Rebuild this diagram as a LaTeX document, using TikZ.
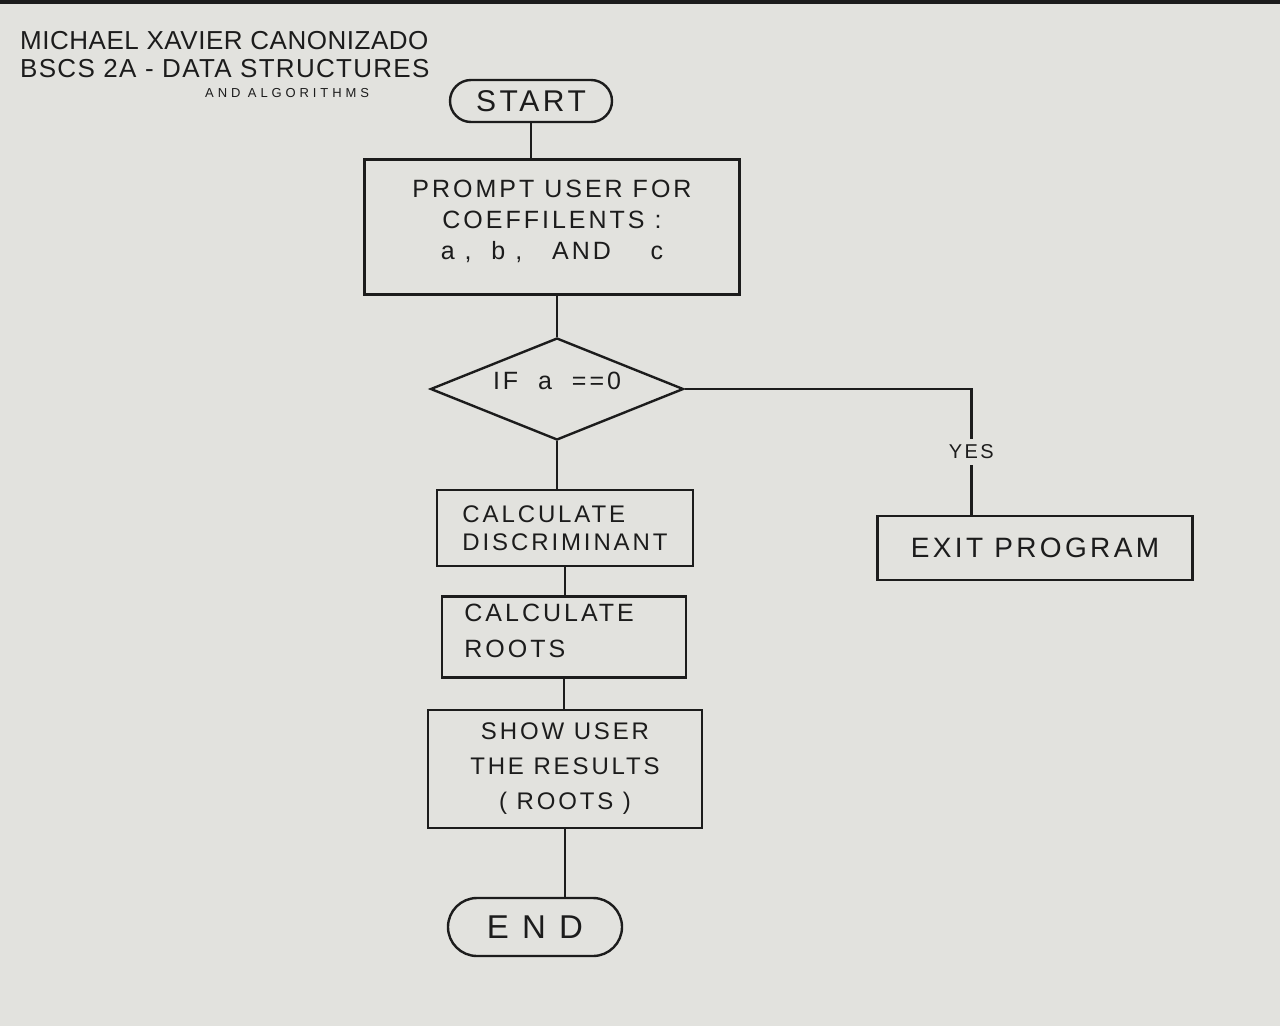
\documentclass[tikz,border=0pt]{standalone}
\usepackage{fontspec}
\newfontfamily\hand[LetterSpace=12]{Liberation Sans}
\newfontfamily\handplain{Liberation Sans}
\usetikzlibrary{shapes.geometric,calc}
\definecolor{paper}{RGB}{226,226,222}
\definecolor{ink}{RGB}{28,28,28}
\tikzset{
  inkline/.style={line width=2.4pt},
  procbox/.style={draw, inkline, rectangle, inner sep=0pt},
  termbox/.style={draw, inkline, rectangle, inner sep=0pt},
  decbox/.style={draw, inkline, diamond, inner sep=0pt, aspect=2.5},
  headtext/.style={anchor=base west, inner sep=0pt},
}
\begin{document}
\begin{tikzpicture}[x=1pt,y=-1pt,color=ink]
\fill[paper] (0,0) rectangle (1280,1026);
\fill[ink] (0,0) rectangle (1280,4);
\useasboundingbox (0,0) rectangle (1280,1026);

% header
\node[headtext, font=\handplain\addfontfeature{LetterSpace=2}\fontsize{26}{26}\selectfont] (hname) at (20,49) {MICHAEL XAVIER CANONIZADO};
\node[headtext, font=\handplain\addfontfeature{LetterSpace=5}\fontsize{26}{26}\selectfont] (hcourse) at (20,77) {BSCS 2A - DATA STRUCTURES};
\node[headtext, font=\hand\addfontfeature{LetterSpace=30}\fontsize{13}{13}\selectfont] (halgo) at (205,97) {AND ALGORITHMS};

% nodes
\node[termbox, rounded corners=21pt, minimum width=162pt, minimum height=42pt, font=\hand\fontsize{30}{30}\selectfont] (start) at (531,101) {START};

\node[procbox, minimum width=375pt, minimum height=135pt, align=center, font=\hand\fontsize{25}{31}\selectfont, text depth=14pt] (prompt) at (552,227)
  {PROMPT USER FOR\\COEFFILENTS :\\a ,\ \ b ,\ \ \ AND\ \ \ \ c};

\node[decbox, minimum width=253pt, minimum height=102pt, font=\hand\fontsize{25}{25}\selectfont] (dec) at (557,389)
  {\makebox[0pt]{\raisebox{0pt}[0pt][0pt]{IF\ \ a\ \ ==0}}};

\node[procbox, minimum width=256pt, minimum height=76pt, align=left, font=\hand\fontsize{24}{28}\selectfont] (disc) at (565,528)
  {CALCULATE\\DISCRIMINANT};

\node[procbox, minimum width=244pt, minimum height=81pt, align=left, font=\hand\fontsize{25}{36}\selectfont, text depth=13pt] (roots) at (564,637)
  {CALCULATE\ \ \ \ \\ROOTS};

\node[procbox, minimum width=274pt, minimum height=118pt, align=center, font=\hand\fontsize{24}{35}\selectfont] (show) at (565,769)
  {SHOW USER\\THE RESULTS\\( ROOTS )};

\node[termbox, rounded corners=29pt, minimum width=174pt, minimum height=58pt, font=\hand\addfontfeature{LetterSpace=40}\fontsize{33}{33}\selectfont] (end) at (535,927) {END};

\node[procbox, minimum width=315pt, minimum height=64pt, font=\hand\fontsize{28}{28}\selectfont] (exit) at (1035,548) {EXIT PROGRAM};
\coordinate (exitin) at ([xshift=95pt]exit.north west);

% connectors
\draw[inkline] (start.south) -- (start.south |- prompt.north);
\draw[inkline] (dec.north |- prompt.south) -- (dec.north);
\draw[inkline] (dec.south) -- (dec.south |- disc.north);
\draw[inkline] (disc.south) -- (disc.south |- roots.north);
\draw[inkline] (roots.south) -- (roots.south |- show.north);
\draw[inkline] (show.south) -- (show.south |- end.north);
\draw[inkline] (dec.east) -| (exitin)
  node[pos=0.75, fill=paper, inner sep=6pt, font=\hand\fontsize{20}{20}\selectfont] (yes) {YES};
\end{tikzpicture}
\end{document}
